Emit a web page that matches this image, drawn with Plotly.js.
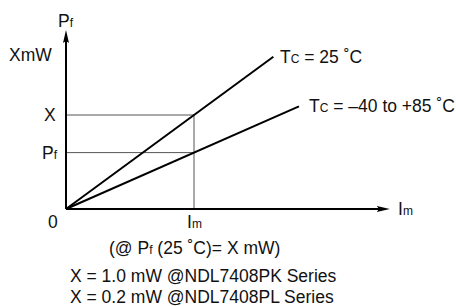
<!DOCTYPE html>
<html>
<head>
<meta charset="utf-8">
<script src="https://cdn.plot.ly/plotly-3.0.1.min.js"></script>
<style>html,body{margin:0;padding:0;background:#fff}#chart{width:456px;height:306px}</style>
</head>
<body>
<div id="chart"></div>
<script>
// ---- data (normalised units: Im = 1, X = 1) ----
var currentIm = 1.0;          // operating current Im
var powerX = 1.0;             // X mW at 25 C
var powerPf = 0.6;            // Pf at Im over -40..+85 C
var line25X = [0, 1.62];      // Tc = 25 C line
var line25Y = [0, 1.62];
var lineWideX = [0, 1.82];    // Tc = -40 to +85 C line
var lineWideY = [0, 1.092];
var axisXEnd = 2.53;
var axisYEnd = 1.905;
var labels25 = 'T<span style="font-size:12px">C</span> = 25 ˚C';
var labelsWide = 'T<span style="font-size:12px">C</span> = –40 to +85 ˚C';
var noteLines = ['X = 1.0 mW @NDL7408PK Series', 'X = 0.2 mW @NDL7408PL Series'];

var F = {family: '"Liberation Sans", Arial, sans-serif', size: 17.5, color: '#111'};
var sub = function (s) { return '<span style="font-size:12px">' + s + '</span>'; };

var traces = [
  {x: [0, currentIm], y: [powerX, powerX], mode: 'lines', line: {color: '#555', width: 1}},
  {x: [0, currentIm], y: [powerPf, powerPf], mode: 'lines', line: {color: '#555', width: 1}},
  {x: [currentIm, currentIm], y: [0, powerX], mode: 'lines', line: {color: '#555', width: 1}},
  {x: line25X, y: line25Y, mode: 'lines', line: {color: '#000', width: 2}},
  {x: lineWideX, y: lineWideY, mode: 'lines', line: {color: '#000', width: 2}},
  {x: [0, 0], y: [0, axisYEnd - 0.1], mode: 'lines', line: {color: '#000', width: 2}},
  {x: [0, axisXEnd - 0.07], y: [0, 0], mode: 'lines', line: {color: '#000', width: 2}}
];

function ann(x, y, text, xa, ya) {
  return {x: x, y: y, text: text, showarrow: false, xanchor: xa || 'center', yanchor: ya || 'middle', font: F};
}

var annotations = [
  ann(0, 2.0, 'P' + sub('f')),
  ann(-0.09, 1.64, 'XmW', 'right'),
  ann(-0.06, powerX, 'X', 'right'),
  ann(-0.05, powerPf, 'P' + sub('f'), 'right'),
  ann(-0.1, -0.14, '0'),
  ann(currentIm, -0.14, 'I' + sub('m')),
  ann(axisXEnd + 0.05, 0, 'I' + sub('m'), 'left'),
  ann(line25X[1] + 0.035, line25Y[1], labels25, 'left'),
  ann(lineWideX[1] + 0.06, lineWideY[1], labelsWide, 'left'),
  ann(currentIm, -0.415, '(@ P' + sub('f') + ' (25 ˚C)= X mW)'),
  ann(0.012, -0.713, noteLines[0], 'left'),
  ann(0.012, -0.936, noteLines[1], 'left')
];

var shapes = [
  {type: 'path', xref: 'x', yref: 'y', xsizemode: 'pixel', ysizemode: 'pixel', xanchor: 0, yanchor: axisYEnd,
   path: 'M0,0 L-3,-13 L0,-11 L3,-13 Z', fillcolor: '#000', line: {width: 0}},
  {type: 'path', xref: 'x', yref: 'y', xsizemode: 'pixel', ysizemode: 'pixel', xanchor: axisXEnd, yanchor: 0,
   path: 'M0,0 L-13,3 L-11,0 L-13,-3 Z', fillcolor: '#000', line: {width: 0}}
];

var layout = {
  width: 456, height: 306,
  margin: {l: 0, r: 0, t: 0, b: 0},
  showlegend: false,
  paper_bgcolor: '#fff', plot_bgcolor: '#fff',
  xaxis: {range: [-66 / 128, 390 / 128], visible: false, fixedrange: true},
  yaxis: {range: [-97 / 94, 209 / 94], visible: false, fixedrange: true},
  annotations: annotations,
  shapes: shapes
};

Plotly.newPlot('chart', traces, layout, {staticPlot: true, displayModeBar: false});
</script>
</body>
</html>
